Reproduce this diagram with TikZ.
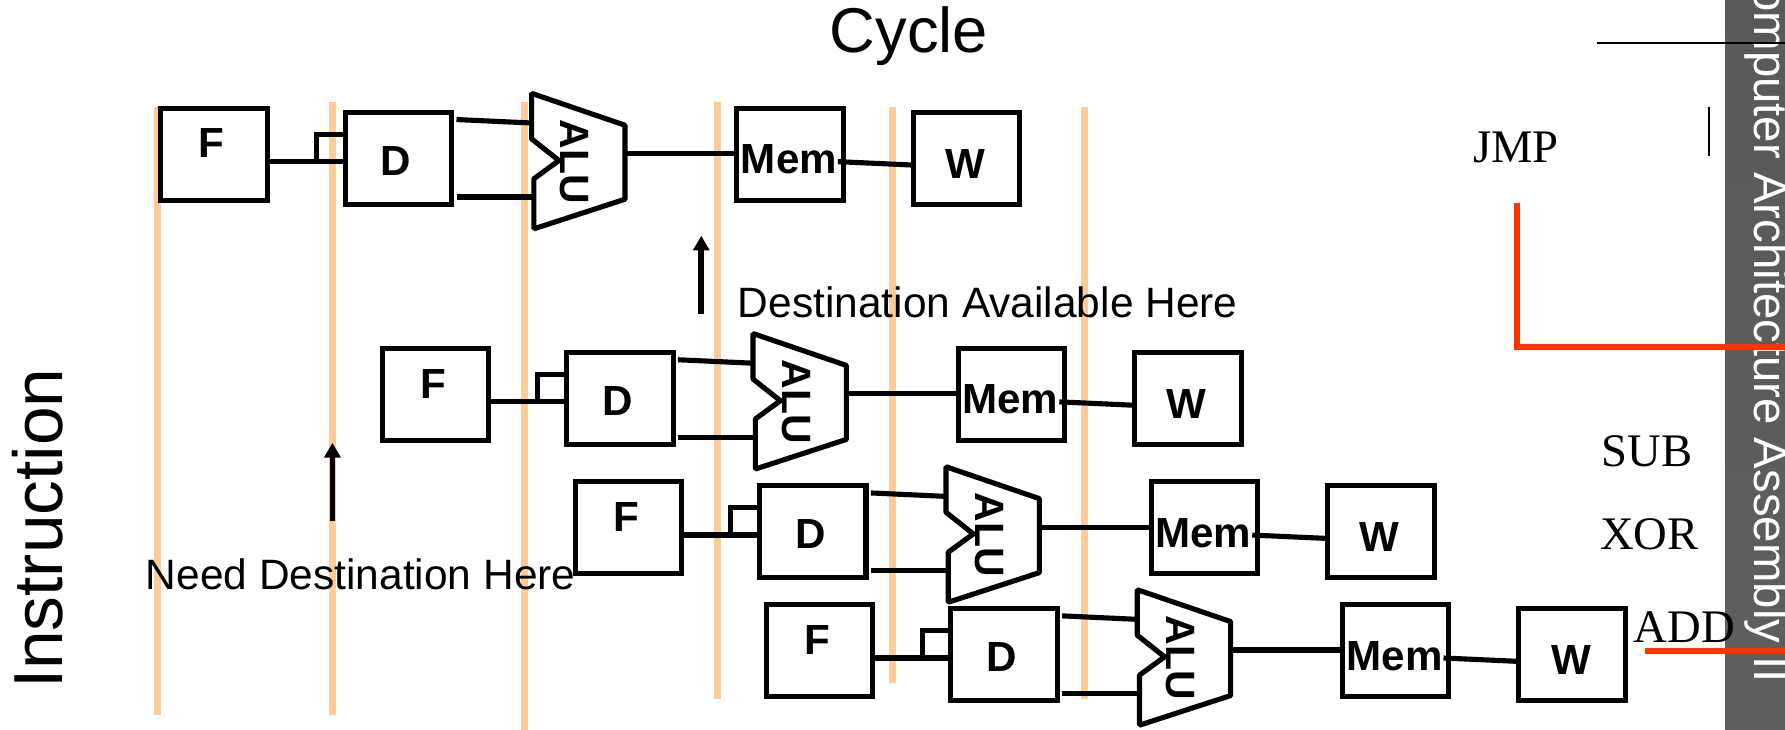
\documentclass[tikz,border=0pt]{standalone}
\usepackage{fontspec}
\setmainfont{Liberation Sans}
\newfontfamily\serifface{Liberation Serif}
\usetikzlibrary{arrows.meta}
\definecolor{cycleline}{HTML}{FFCC99}
\definecolor{redline}{HTML}{FF3300}
\tikzset{
  x=1pt,y=-1pt,
  cycleln/.style={draw=cycleline,line width=6pt},
  stagebox/.style={draw=black,fill=white,line width=4.5pt,minimum width=93.5pt,minimum height=80.5pt,inner sep=0pt,outer sep=0pt},
  wire/.style={draw=black,line width=4.5pt},
  stagetext/.style={font=\bfseries\fontsize{37}{40}\selectfont,inner sep=0pt},
  alutext/.style={font=\bfseries\fontsize{36}{40}\selectfont,inner sep=0pt,rotate=-90},
  saytext/.style={font=\fontsize{37.3}{42}\selectfont,inner sep=0pt,anchor=base west},
  optext/.style={font=\serifface\fontsize{41}{46}\selectfont,inner sep=0pt,anchor=base west},
  uparrow/.style={draw=black,line width=5pt,-{Triangle[length=13pt,width=14pt]}},
  redln/.style={draw=redline,line width=5.3pt,line join=miter},
  thinln/.style={draw=black,line width=1.4pt}
}
\newcommand{\pipeline}[3]{%
\begin{scope}[shift={(#2,#3)}]
  \node[stagebox] (#1F) at (188,135.5) {};
  \node[stagebox] (#1D) at (350,139) {};
  \node[stagebox] (#1M) at (694,135.5) {};
  \node[stagebox] (#1W) at (849,139) {};
  \coordinate (#1a) at (467,82);
  \coordinate (#1b) at (549,110);
  \coordinate (#1c) at (549,175);
  \coordinate (#1d) at (469,201);
  \coordinate (#1e) at (469,157);
  \coordinate (#1f) at (491,141);
  \coordinate (#1g) at (467,122);
  \coordinate (#1j) at (278,142);
  \coordinate (#1k) at (278,118);
  \coordinate (#1p) at (401,105);
  \coordinate (#1q) at (466,108);
  \coordinate (#1r) at (401,173);
  \coordinate (#1s) at (468,173);
  \coordinate (#1o) at (549,135);
  \coordinate (#1u) at (736,142);
  \path[draw=black,fill=white,line width=4.5pt,line join=bevel]
    (#1a) -- (#1b) -- (#1c) -- (#1d) -- (#1e) -- (#1f) -- (#1g) -- cycle;
  \draw[wire] ([yshift=-6.5pt]#1F.east) -- ([yshift=-3pt]#1D.west);
  \draw[wire] (#1j) -- (#1k) -- (#1k -| #1D.west);
  \draw[wire] (#1p) -- (#1q);
  \draw[wire] (#1r) -- (#1s);
  \draw[wire] (#1o) -- (#1o -| #1M.west);
  \node[stagetext] (#1Ft) at (186,126) {F};
  \node[stagetext] (#1Dt) at (348,141) {D};
  \node[alutext] (#1At) at (505,142) {ALU};
  \node[stagetext] (#1Mt) at (693,140) {Mem};
  \node[stagetext] (#1Wt) at (848,144) {W};
  \draw[wire] (#1u) -- ([yshift=-6pt]#1W.west);
\end{scope}}
\begin{document}
\begin{tikzpicture}
\useasboundingbox (0,0) rectangle (1568,641);
% side band
\shade[top color=black!65,middle color=black!77,bottom color=black!63,shading angle=0] (1515.3,0) rectangle (1568,641);
\node[font=\fontsize{41.6}{46}\selectfont,text=white,inner sep=0pt,rotate=-90,anchor=base east] (band) at (1541.6,600) {Computer Architecture Assembly II};
% cycle boundaries
\foreach \n/\x/\a/\b in {1/138/94/628,2/292/90/628,3/461/90/641,4/630/90/614,5/784/94/600,6/953/94/614}{
  \coordinate (ct\n) at (\x,\a);
  \coordinate (cb\n) at (\x,\b);
  \draw[cycleln] (ct\n) -- (cb\n);
}
\pipeline{r}{0}{0}
\pipeline{s}{194.5}{211}
\pipeline{t}{364}{328}
\pipeline{u}{532}{436}
% titles
\node[font=\fontsize{55.6}{60}\selectfont,inner sep=0pt] (cycle) at (798.5,32) {Cycle};
\node[font=\fontsize{61}{66}\selectfont,inner sep=0pt,rotate=90] (instr) at (33,464.5) {Instruction};
% arrows and remarks
\coordinate (a1s) at (616,276);
\coordinate (a1e) at (616,207);
\draw[uparrow] (a1s) -- (a1e);
\coordinate (a2s) at (292,458);
\coordinate (a2e) at (292,389);
\draw[uparrow] (a2s) -- (a2e);
\node[saytext] (avail) at (648,279) {Destination Available Here};
\node[saytext] (need) at (128,518) {Need Destination Here};
% right column
\coordinate (h1) at (1402.6,37.8);
\coordinate (h2) at (1568,37.8);
\draw[thinln] (h1) -- (h2);
\coordinate (v1) at (1501,94);
\coordinate (v2) at (1501,137);
\draw[thinln] (v1) -- (v2);
\node[optext] (jmp) at (1294,142.6) {JMP};
\node[optext] (sub) at (1407,409.5) {SUB};
\node[optext] (xor) at (1405.5,482.6) {XOR};
\node[optext] (add) at (1435,564) {ADD};
\coordinate (ra) at (1332.6,178);
\coordinate (rb) at (1332.6,304.6);
\coordinate (rc) at (1568,304.6);
\draw[redln] (ra) -- (rb) -- (rc);
\coordinate (rd) at (1445,572);
\coordinate (re) at (1568,572);
\draw[redln] (rd) -- (re);
\end{tikzpicture}
\end{document}
